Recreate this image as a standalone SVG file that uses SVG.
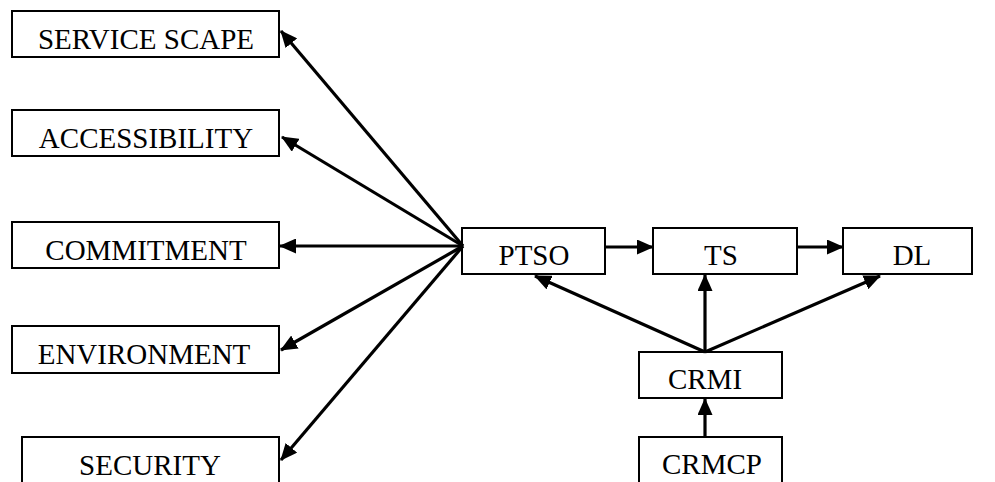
<svg xmlns="http://www.w3.org/2000/svg" width="995" height="482" viewBox="0 0 995 482">
<style>
.box{fill:#fff;stroke:#000;stroke-width:2}
.lbl{font-family:"Liberation Serif","Times New Roman",serif;font-size:29px;fill:#000;text-anchor:middle}
.edge{stroke:#000;stroke-width:3.2;fill:none;marker-end:url(#ah)}
</style>
<defs>
<marker id="ah" markerUnits="userSpaceOnUse" markerWidth="17" markerHeight="15" refX="16" refY="7.5" orient="auto">
<path d="M0,0 L17,7.5 L0,15 z" fill="#000"/>
</marker>
</defs>
<rect width="995" height="482" fill="#fff"/>
<g id="service-scape"><rect class="box" x="12" y="11" width="267" height="46"/><text class="lbl" x="146" y="49">SERVICE SCAPE</text></g>
<g id="accessibility"><rect class="box" x="12" y="110" width="267" height="46"/><text class="lbl" x="146" y="148">ACCESSIBILITY</text></g>
<g id="commitment"><rect class="box" x="12" y="222" width="267" height="46"/><text class="lbl" x="146" y="260">COMMITMENT</text></g>
<g id="environment"><rect class="box" x="12" y="326" width="267" height="47"/><text class="lbl" x="144" y="364">ENVIRONMENT</text></g>
<g id="security"><rect class="box" x="22" y="437" width="257" height="50"/><text class="lbl" x="150" y="475">SECURITY</text></g>
<g id="ptso"><rect class="box" x="462" y="228" width="143" height="46"/><text class="lbl" x="534" y="265">PTSO</text></g>
<g id="ts"><rect class="box" x="653" y="228" width="144" height="46"/><text class="lbl" x="721" y="265">TS</text></g>
<g id="dl"><rect class="box" x="843" y="228" width="129" height="46"/><text class="lbl" x="912" y="265">DL</text></g>
<g id="crmi"><rect class="box" x="639" y="352" width="143" height="46"/><text class="lbl" x="705" y="389">CRMI</text></g>
<g id="crmcp"><rect class="box" x="639" y="437" width="143" height="50"/><text class="lbl" x="712" y="474">CRMCP</text></g>
<g id="connectors">
<line class="edge" x1="463" y1="246" x2="281" y2="31"/>
<line class="edge" x1="463" y1="246" x2="282" y2="137"/>
<line class="edge" x1="463" y1="246" x2="280" y2="246"/>
<line class="edge" x1="463" y1="246" x2="281" y2="350"/>
<line class="edge" x1="463" y1="246" x2="281" y2="460"/>
<line class="edge" x1="605" y1="247" x2="653" y2="247"/>
<line class="edge" x1="797" y1="247" x2="843" y2="247"/>
<line class="edge" x1="705" y1="352" x2="535" y2="276"/>
<line class="edge" x1="705" y1="352" x2="705" y2="275"/>
<line class="edge" x1="705" y1="352" x2="880" y2="276"/>
<line class="edge" x1="705" y1="437" x2="705" y2="399"/>
</g>
</svg>
